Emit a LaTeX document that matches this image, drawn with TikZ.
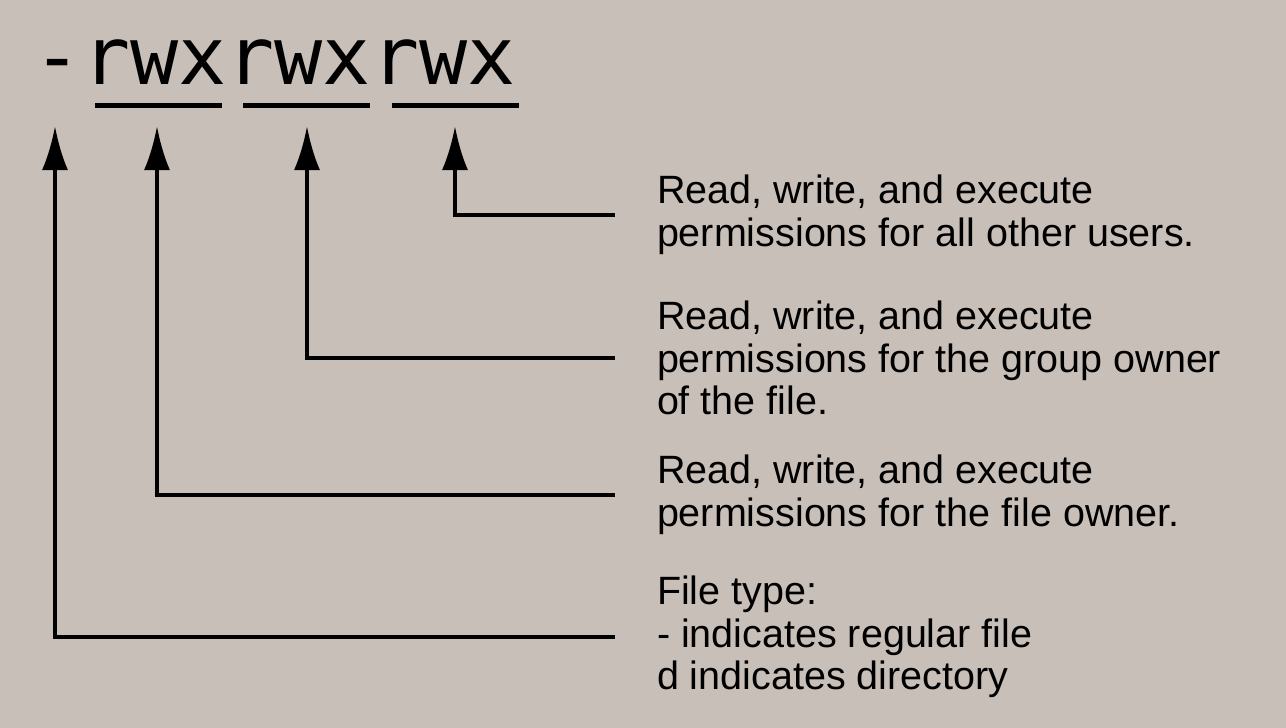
\documentclass[tikz,border=0pt]{standalone}
\usepackage{fontspec}
\setmainfont{Liberation Sans}
\newfontfamily\permfont{DejaVu Sans Mono}
\usetikzlibrary{arrows.meta}
\definecolor{bgcol}{HTML}{C9BFB9}
\begin{document}
\begin{tikzpicture}[
  x=1pt, y=-1pt,
  every path/.style={line width=4pt},
  ar/.style={-{Latex[length=44pt,width=26pt]}},
  ul/.style={line width=5pt},
  desc/.style={anchor=west, align=left, inner sep=0,
    font=\fontsize{39.5}{42.5}\selectfont},
  ]
  \fill[bgcol] (0,0) rectangle (1286,728);
  \useasboundingbox (0,0) rectangle (1286,728);
  % the permission string
  \node[anchor=base west, inner sep=0, font=\permfont\fontsize{80}{80}\selectfont] (perm) at (32,84) {-rwxrwxrwx};
  \draw[ul] (95,105) -- (222,105);
  \draw[ul] (243,105) -- (370,105);
  \draw[ul] (392,105) -- (519,105);
  % arrow tops
  \coordinate (ttype) at (55,126);
  \coordinate (towner) at (157,126);
  \coordinate (tgroup) at (307,126);
  \coordinate (tother) at (455,126);
  % descriptions
  \node[desc] (other) at (655,215) {Read, write, and execute\\permissions for all other users.};
  \node[desc] (group) at (655,358) {Read, write, and execute\\permissions for the group owner\\of the file.};
  \node[desc] (owner) at (655,495) {Read, write, and execute\\permissions for the file owner.};
  \node[desc] (ftype) at (655,637) {File type:\\- indicates regular file\\d indicates directory};
  % connectors
  \draw[ar] ([xshift=-40pt]other.west) -| (tother);
  \draw[ar] ([xshift=-40pt]group.west) -| (tgroup);
  \draw[ar] ([xshift=-40pt]owner.west) -| (towner);
  \draw[ar] ([xshift=-40pt]ftype.west) -| (ttype);
\end{tikzpicture}
\end{document}
